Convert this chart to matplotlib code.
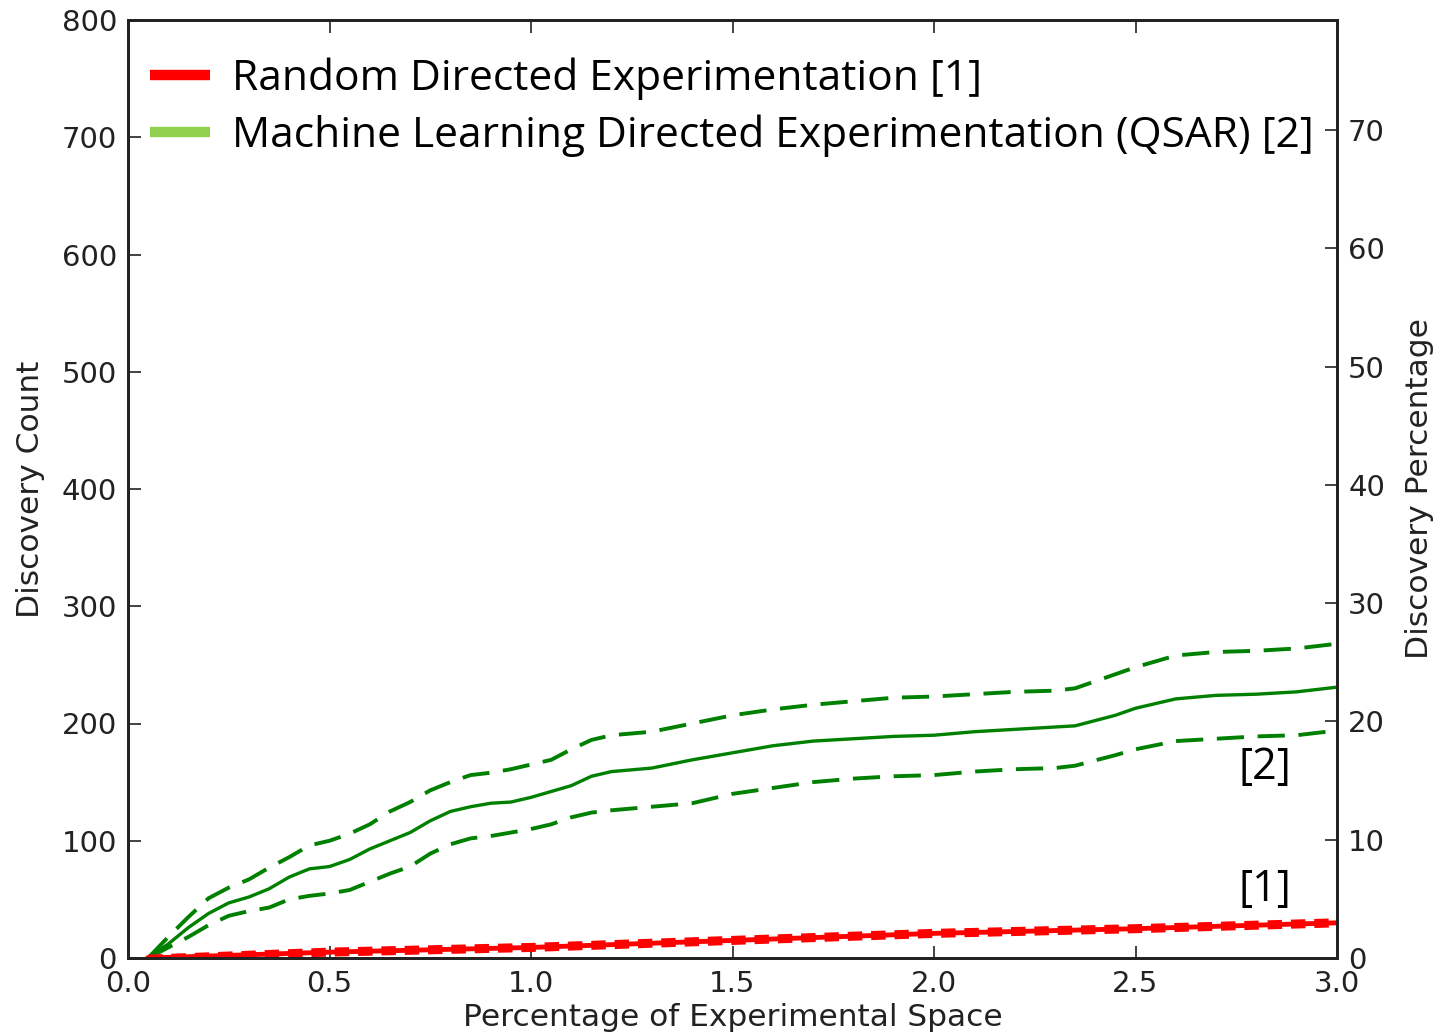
import matplotlib
matplotlib.use("Agg")
import matplotlib.pyplot as plt
from matplotlib.lines import Line2D

# ---- data ----
x_ml = [0.05, 0.1, 0.15, 0.2, 0.25, 0.3, 0.35, 0.4, 0.45, 0.5, 0.55, 0.6, 0.65, 0.7, 0.75,
        0.8, 0.85, 0.9, 0.95, 1.0, 1.05, 1.1, 1.15, 1.2, 1.3, 1.4, 1.5, 1.6, 1.7, 1.8,
        1.9, 2.0, 2.1, 2.2, 2.3, 2.35, 2.45, 2.5, 2.6, 2.7, 2.8, 2.9, 3.0]
ml_mean = [0, 12, 26, 38, 47, 52, 59, 69, 76, 78, 84, 93, 100, 107, 117, 125, 129, 132, 133,
           137, 142, 147, 155, 159, 162, 169, 175, 181, 185, 187, 189, 190, 193, 195, 197,
           198, 207, 213, 221, 224, 225, 227, 231]
ml_upper = [0, 18, 35, 51, 60, 67, 77, 86, 96, 100, 106, 114, 125, 133, 143, 150, 156, 158,
            161, 165, 169, 178, 186, 190, 193, 200, 207, 212, 216, 219, 222, 223, 225, 227,
            228, 230, 242, 248, 258, 261, 262, 264, 268]
ml_lower = [0, 9, 18, 28, 36, 40, 43, 50, 53, 55, 58, 65, 72, 78, 89, 97, 102, 104, 107, 110,
            114, 120, 124, 126, 129, 132, 140, 145, 150, 153, 155, 156, 159, 161, 162, 164,
            173, 178, 185, 187, 189, 190, 194]

x_rand = [0.05, 0.5, 1.0, 1.5, 2.0, 2.5, 3.0]
rand_mean = [0, 5, 9, 15, 21, 25, 30]
rand_upper = [0.5, 6.5, 10.5, 16.5, 22.5, 26.5, 31.5]
rand_lower = [0, 3.5, 7.5, 13.5, 19.5, 23.5, 28.5]

legend_labels = ["Random Directed Experimentation [1]",
                 "Machine Learning Directed Experimentation (QSAR) [2]"]
left_ticks = [0, 100, 200, 300, 400, 500, 600, 700, 800]
right_ticks = [0, 10, 20, 30, 40, 50, 60, 70]
x_ticks = [0.0, 0.5, 1.0, 1.5, 2.0, 2.5, 3.0]

plt.rcParams["font.family"] = ["DejaVu Sans"]

W, H = 1437, 1036
fig = plt.figure(figsize=(W / 100, H / 100), dpi=100)
ax = fig.add_axes([128 / W, 1 - 958 / H, (1337 - 128) / W, (958 - 20) / H])

green = "#008000"
ax.plot(x_ml, ml_mean, color=green, lw=2.4)
ax.plot(x_ml, ml_upper, color=green, lw=2.8, ls=(0, (7.0, 3.5)))
ax.plot(x_ml, ml_lower, color=green, lw=2.8, ls=(0, (7.0, 3.5)))
ax.plot(x_rand, rand_mean, color="red", lw=3.5)
ax.plot(x_rand, rand_upper, color="red", lw=4.0, ls=(0, (2.6, 1.6)))
ax.plot(x_rand, rand_lower, color="red", lw=4.0, ls=(0, (2.6, 1.6)))

ax.set_xlim(0, 3.0)
ax.set_ylim(0, 800)
ax.set_xticks(x_ticks)
ax.set_xticklabels([f"{t:.1f}" for t in x_ticks])
ax.set_yticks(left_ticks)
ax.tick_params(axis="both", direction="in", length=9, width=1.2, labelsize=21,
               top=True, colors="#222222")
ax.tick_params(axis="x", pad=9)
ax.tick_params(axis="y", pad=8)
ax.set_xlabel("Percentage of Experimental Space", fontsize=22.5, color="#222222", labelpad=3)
ax.set_ylabel("Discovery Count", fontsize=22.5, color="#222222", labelpad=12)
for s in ax.spines.values():
    s.set_linewidth(2.0)
    s.set_color("#222222")

ax2 = ax.twinx()
ax2.set_ylim(0, 79.3)
ax2.set_yticks(right_ticks)
ax2.tick_params(direction="in", length=9, width=1.2, labelsize=21, pad=8, colors="#222222")
ax2.set_ylabel("Discovery Percentage", fontsize=22.5, color="#222222", labelpad=14)
for s in ax2.spines.values():
    s.set_linewidth(2.0)
    s.set_color("#222222")

handles = [Line2D([], [], color="red", lw=7.5, solid_capstyle="butt"),
           Line2D([], [], color="#92D050", lw=7.5, solid_capstyle="butt")]
leg = ax.legend(handles, legend_labels, loc="upper left", frameon=False,
                prop={"family": "Open Sans", "size": 30.6}, handlelength=1.41,
                handletextpad=0.52, labelspacing=0.34, borderaxespad=0.0,
                bbox_to_anchor=(0.004, 0.978))

ax.text(2.82, 162, "[2]", fontsize=31, family="Open Sans", ha="center", va="center")
ax.text(2.82, 58, "[1]", fontsize=31, family="Open Sans", ha="center", va="center")

fig.savefig("out.png", dpi=100)
